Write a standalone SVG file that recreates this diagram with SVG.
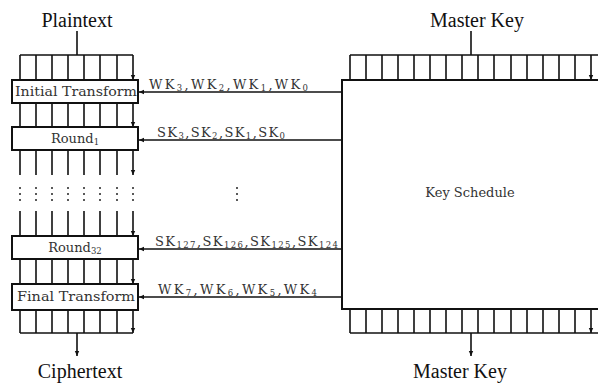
<svg xmlns="http://www.w3.org/2000/svg" width="598" height="385" viewBox="0 0 598 385">
<defs>
<marker id="ah" markerWidth="6" markerHeight="6" refX="5" refY="3" orient="auto" markerUnits="userSpaceOnUse">
<path d="M0,0.8 L5,3 L0,5.2 Z" fill="#111"/>
</marker>
</defs>
<style>
.ln{stroke:#111;stroke-width:1.6;fill:none}
.ar{stroke:#111;stroke-width:1.6;fill:none;marker-end:url(#ah)}
.bx{stroke:#111;stroke-width:2;fill:#fff}
.lbl{font-family:"Liberation Serif",serif;font-size:20px;fill:#111}
.tt{font-family:"DejaVu Serif","Liberation Serif",serif;font-size:13px;fill:#333}
.sub{font-size:8.5px}
.dot{fill:#222}
</style>
<rect width="598" height="385" fill="#fff"/>
<g id="connectors">
<path class="ln" d="M77,31 V55 M20,55 H133"/>
<path class="ar" d="M20,55 V80 M36,55 V80 M52,55 V80 M68,55 V80 M84,55 V80 M100,55 V80 M117,55 V80 M133,55 V80"/>
<path class="ar" d="M20,103 V127 M36,103 V127 M52,103 V127 M68,103 V127 M84,103 V127 M100,103 V127 M117,103 V127 M133,103 V127"/>
<path class="ar" d="M20,150 V175 M36,150 V175 M52,150 V175 M68,150 V175 M84,150 V175 M100,150 V175 M117,150 V175 M133,150 V175"/>
<path class="ar" d="M20,211 V236 M36,211 V236 M52,211 V236 M68,211 V236 M84,211 V236 M100,211 V236 M117,211 V236 M133,211 V236"/>
<path class="ar" d="M20,259 V284 M36,259 V284 M52,259 V284 M68,259 V284 M84,259 V284 M100,259 V284 M117,259 V284 M133,259 V284"/>
<path class="ar" d="M20,310 V333 M36,310 V333 M52,310 V333 M68,310 V333 M84,310 V333 M100,310 V333 M117,310 V333 M133,310 V333"/>
<path class="ln" d="M20,333 H133"/>
<path class="ar" d="M77,333 V356"/>
<path class="ln" d="M471,31 V55 M350,55 H598"/>
<path class="ar" d="M350,55 V80 M366,55 V80 M382,55 V80 M398,55 V80 M414,55 V80 M430,55 V80 M446,55 V80 M462,55 V80 M478,55 V80 M494,55 V80 M511,55 V80 M527,55 V80 M543,55 V80 M559,55 V80 M575,55 V80 M591,55 V80"/>
<path class="ar" d="M350,309 V333 M366,309 V333 M382,309 V333 M398,309 V333 M414,309 V333 M430,309 V333 M446,309 V333 M462,309 V333 M478,309 V333 M494,309 V333 M511,309 V333 M527,309 V333 M543,309 V333 M559,309 V333 M575,309 V333 M591,309 V333"/>
<path class="ln" d="M350,333 H598"/>
<path class="ar" d="M471,333 V356"/>
<path class="ar" d="M342,92 H139"/>
<path class="ar" d="M342,140 H139"/>
<path class="ar" d="M342,249 H139"/>
<path class="ar" d="M342,297 H139"/>
</g>
<g id="labels-wk">
<text class="tt" x="149" y="89" textLength="159" lengthAdjust="spacing">WK<tspan class="sub" dy="2">3</tspan><tspan dy="-2">,WK</tspan><tspan class="sub" dy="2">2</tspan><tspan dy="-2">,WK</tspan><tspan class="sub" dy="2">1</tspan><tspan dy="-2">,WK</tspan><tspan class="sub" dy="2">0</tspan></text>
<text class="tt" x="157" y="137" textLength="128" lengthAdjust="spacing">SK<tspan class="sub" dy="2">3</tspan><tspan dy="-2">,SK</tspan><tspan class="sub" dy="2">2</tspan><tspan dy="-2">,SK</tspan><tspan class="sub" dy="2">1</tspan><tspan dy="-2">,SK</tspan><tspan class="sub" dy="2">0</tspan></text>
<text class="tt" x="155" y="246" textLength="183" lengthAdjust="spacing">SK<tspan class="sub" dy="2">127</tspan><tspan dy="-2">,SK</tspan><tspan class="sub" dy="2">126</tspan><tspan dy="-2">,SK</tspan><tspan class="sub" dy="2">125</tspan><tspan dy="-2">,SK</tspan><tspan class="sub" dy="2">124</tspan></text>
<text class="tt" x="158" y="294" textLength="159" lengthAdjust="spacing">WK<tspan class="sub" dy="2">7</tspan><tspan dy="-2">,WK</tspan><tspan class="sub" dy="2">6</tspan><tspan dy="-2">,WK</tspan><tspan class="sub" dy="2">5</tspan><tspan dy="-2">,WK</tspan><tspan class="sub" dy="2">4</tspan></text>
</g>
<g id="plaintext"><text class="lbl" x="77" y="27" text-anchor="middle">Plaintext</text></g>
<g id="ciphertext"><text class="lbl" x="80" y="378" text-anchor="middle">Ciphertext</text></g>
<g id="masterkey-top"><text class="lbl" x="477" y="27" text-anchor="middle">Master Key</text></g>
<g id="masterkey-bottom"><text class="lbl" x="460" y="378" text-anchor="middle">Master Key</text></g>
<g id="initial-transform">
<rect class="bx" x="12" y="80" width="126" height="23"/>
<text class="tt" x="76" y="96" text-anchor="middle" textLength="122" lengthAdjust="spacingAndGlyphs">Initial Transform</text>
</g>
<g id="round1">
<rect class="bx" x="12" y="127" width="126" height="23"/>
<text class="tt" x="75" y="143" text-anchor="middle">Round<tspan class="sub" dy="2">1</tspan></text>
</g>
<g id="ellipsis">
<g class="dot">
<circle cx="20" cy="188" r="1"/><circle cx="20" cy="194" r="1"/><circle cx="20" cy="200" r="1"/>
<circle cx="36" cy="188" r="1"/><circle cx="36" cy="194" r="1"/><circle cx="36" cy="200" r="1"/>
<circle cx="52" cy="188" r="1"/><circle cx="52" cy="194" r="1"/><circle cx="52" cy="200" r="1"/>
<circle cx="68" cy="188" r="1"/><circle cx="68" cy="194" r="1"/><circle cx="68" cy="200" r="1"/>
<circle cx="84" cy="188" r="1"/><circle cx="84" cy="194" r="1"/><circle cx="84" cy="200" r="1"/>
<circle cx="100" cy="188" r="1"/><circle cx="100" cy="194" r="1"/><circle cx="100" cy="200" r="1"/>
<circle cx="117" cy="188" r="1"/><circle cx="117" cy="194" r="1"/><circle cx="117" cy="200" r="1"/>
<circle cx="133" cy="188" r="1"/><circle cx="133" cy="194" r="1"/><circle cx="133" cy="200" r="1"/>
<circle cx="237" cy="188" r="1"/><circle cx="237" cy="194" r="1"/><circle cx="237" cy="200" r="1"/>
</g>
</g>
<g id="round32">
<rect class="bx" x="12" y="236" width="126" height="23"/>
<text class="tt" x="75" y="252" text-anchor="middle">Round<tspan class="sub" dy="2">32</tspan></text>
</g>
<g id="final-transform">
<rect class="bx" x="12" y="284" width="126" height="26"/>
<text class="tt" x="76" y="301" text-anchor="middle" textLength="118" lengthAdjust="spacingAndGlyphs">Final Transform</text>
</g>
<g id="key-schedule">
<rect class="bx" x="342" y="80" width="262" height="229"/>
<text class="tt" x="470" y="197" text-anchor="middle">Key Schedule</text>
</g>
</svg>
